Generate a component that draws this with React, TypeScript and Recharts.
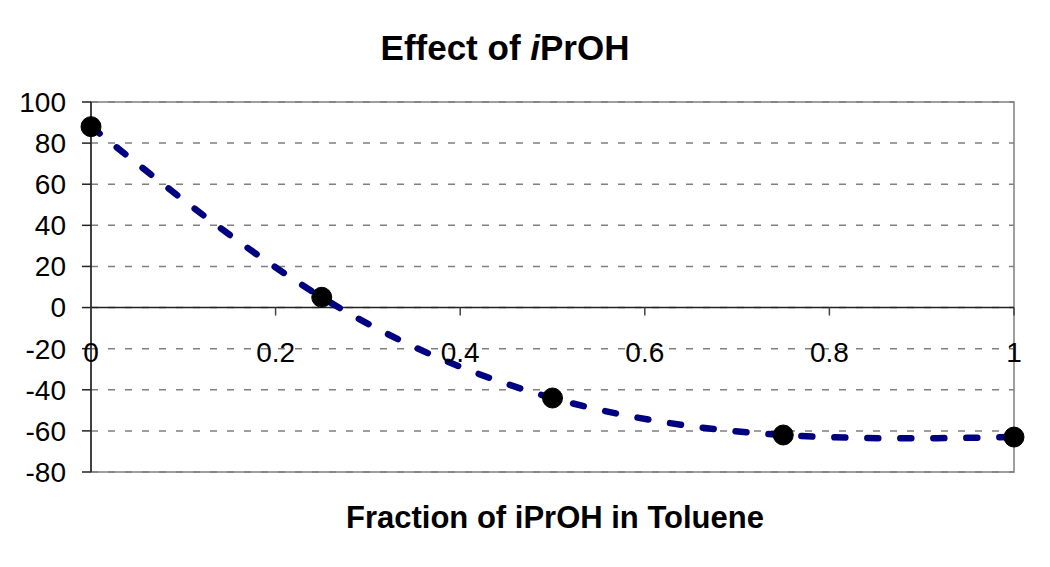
import React from 'react';
import { ComposedChart, Line, XAxis, YAxis, CartesianGrid, ReferenceLine, ReferenceArea } from 'recharts';

const fractions = [0, 0.25, 0.5, 0.75, 1];
const effects = [88, 5, -44, -62, -63];
const xTicks = [0, 0.2, 0.4, 0.6, 0.8, 1];
const yTicks = [-80, -60, -40, -20, 0, 20, 40, 60, 80, 100];

const data = fractions.map((x, i) => ({ x, y: effects[i] }));

const W = 1050;
const H = 567;
const PLOT_TOP = 102;
const PLOT_BOTTOM = 472;
const Y_MIN = -80;
const Y_MAX = 100;
const ZERO_Y = PLOT_TOP + ((Y_MAX - 0) / (Y_MAX - Y_MIN)) * (PLOT_BOTTOM - PLOT_TOP);
const FONT = '"Liberation Sans", Arial, sans-serif';

const XTick = (props: any) => {
  const { x, payload } = props;
  return (
    <g>
      <line x1={x} x2={x} y1={ZERO_Y} y2={ZERO_Y + 8} stroke="#444" strokeWidth={1.5} />
      <text x={x} y={ZERO_Y + 54} textAnchor="middle" fontFamily={FONT} fontSize={28} fill="#000">
        {String(payload.value)}
      </text>
    </g>
  );
};

export default function App() {
  return (
    <div style={{ position: 'absolute', left: 0, top: 0, width: W, height: H, background: '#fff' }}>
      <ComposedChart
        width={W}
        height={H}
        data={data}
        margin={{ top: PLOT_TOP, right: 36, bottom: 65, left: 31 }}
      >
        <CartesianGrid vertical={false} stroke="#808080" strokeWidth={1.5} strokeDasharray="7 10" />
        <ReferenceArea x1={0} x2={1} y1={-80} y2={100} fill="none" stroke="#808080" strokeWidth={1.5} ifOverflow="visible" />
        <XAxis
          type="number"
          dataKey="x"
          domain={[0, 1]}
          ticks={xTicks}
          interval={0}
          axisLine={false}
          tickLine={false}
          height={30}
          tick={<XTick />}
        />
        <YAxis
          type="number"
          domain={[Y_MIN, Y_MAX]}
          ticks={yTicks}
          interval={0}
          width={60}
          axisLine={{ stroke: '#222', strokeWidth: 1.5 }}
          tickLine={{ stroke: '#222', strokeWidth: 1.5 }}
          tickSize={9}
          tickMargin={16}
          tick={{ fontFamily: FONT, fontSize: 28, fill: '#000' }}
        />
        <ReferenceLine y={0} stroke="#222" strokeWidth={1.5} />
        <Line
          type="natural"
          dataKey="y"
          stroke="#000080"
          strokeWidth={6.5}
          strokeDasharray="11 22"
          strokeLinecap="round"
          dot={false}
          isAnimationActive={false}
        />
        <Line
          type="linear"
          dataKey="y"
          stroke="none"
          strokeWidth={0}
          dot={{ r: 10, fill: '#000', stroke: '#000', strokeWidth: 1 }}
          activeDot={false}
          isAnimationActive={false}
        />
      </ComposedChart>
      <svg width={W} height={H} style={{ position: 'absolute', left: 0, top: 0, pointerEvents: 'none' }}>
        <text x={505} y={60} textAnchor="middle" fontFamily={FONT} fontWeight="bold" fontSize={35} fill="#000">
          Effect of <tspan fontStyle="italic">i</tspan>PrOH
        </text>
        <text x={555} y={528} textAnchor="middle" fontFamily={FONT} fontWeight="bold" fontSize={31} fill="#000">
          Fraction of iPrOH in Toluene
        </text>
      </svg>
    </div>
  );
}
